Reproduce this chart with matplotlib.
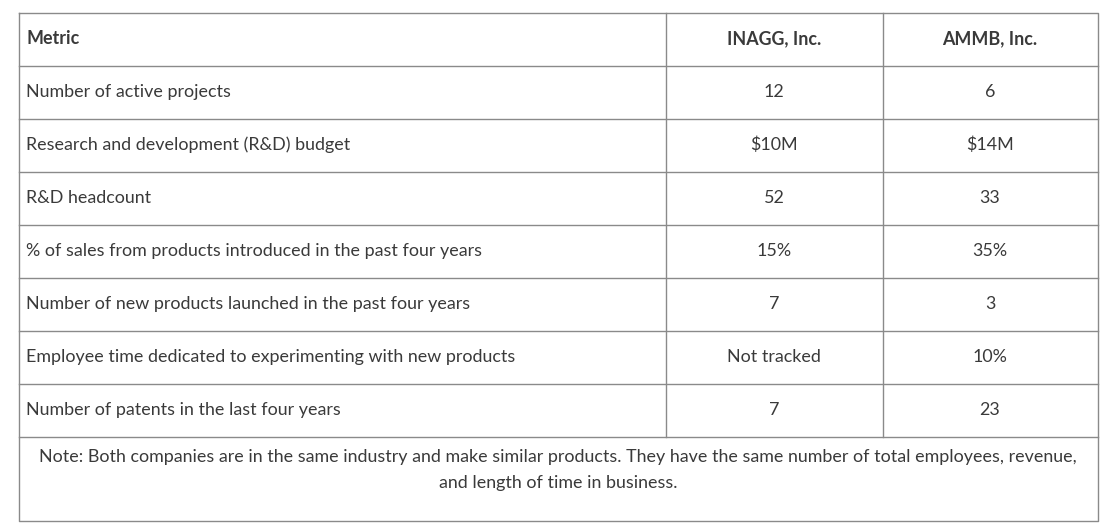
import matplotlib
matplotlib.use("Agg")
import matplotlib.pyplot as plt

header = ["Metric", "INAGG, Inc.", "AMMB, Inc."]
metrics = ["Number of active projects",
           "Research and development (R&D) budget",
           "R&D headcount",
           "% of sales from products introduced in the past four years",
           "Number of new products launched in the past four years",
           "Employee time dedicated to experimenting with new products",
           "Number of patents in the last four years"]
inagg = ["12", "$10M", "52", "15%", "7", "Not tracked", "7"]
ammb = ["6", "$14M", "33", "35%", "3", "10%", "23"]
note = ("Note: Both companies are in the same industry and make similar products. They have the same number of total employees, revenue,\n"
        "and length of time in business.")

plt.rcParams['font.family'] = ['Lato', 'DejaVu Sans']
fig = plt.figure(figsize=(11.1, 5.32), dpi=100)
ax = fig.add_axes([0, 0, 1, 1])
ax.set_xlim(0, 1110); ax.set_ylim(532, 0); ax.axis('off')

lc = '#8a8a8a'; tc = '#3a3a3a'; lw = 1.0
L, R, T, B = 18.5, 1097.5, 12.5, 521
c1, c2 = 665.5, 882.5
rh = 53
nrows = len(metrics) + 1
tbl_bottom = T + rh * nrows
ax.plot([L, R, R, L, L], [T, T, B, B, T], color=lc, lw=lw)
for i in range(1, nrows + 1):
    y = T + rh * i
    ax.plot([L, R], [y, y], color=lc, lw=lw)
for x in (c1, c2):
    ax.plot([x, x], [T, tbl_bottom], color=lc, lw=lw)

fs = 12.9
rows = [header] + [[m, a, b] for m, a, b in zip(metrics, inagg, ammb)]
for i, r in enumerate(rows):
    yc = T + rh * i + rh / 2
    w = 'bold' if i == 0 else 'normal'
    ax.text(26, yc, r[0], ha='left', va='center', fontsize=fs, color=tc, fontweight=w)
    ax.text((c1 + c2) / 2, yc, r[1], ha='center', va='center', fontsize=fs, color=tc, fontweight=w)
    ax.text((c2 + R) / 2, yc, r[2], ha='center', va='center', fontsize=fs, color=tc, fontweight=w)

ax.text((L + R) / 2, 470, note, ha='center', va='center', fontsize=fs, color=tc, linespacing=1.7)
fig.savefig("out.png", dpi=100)
